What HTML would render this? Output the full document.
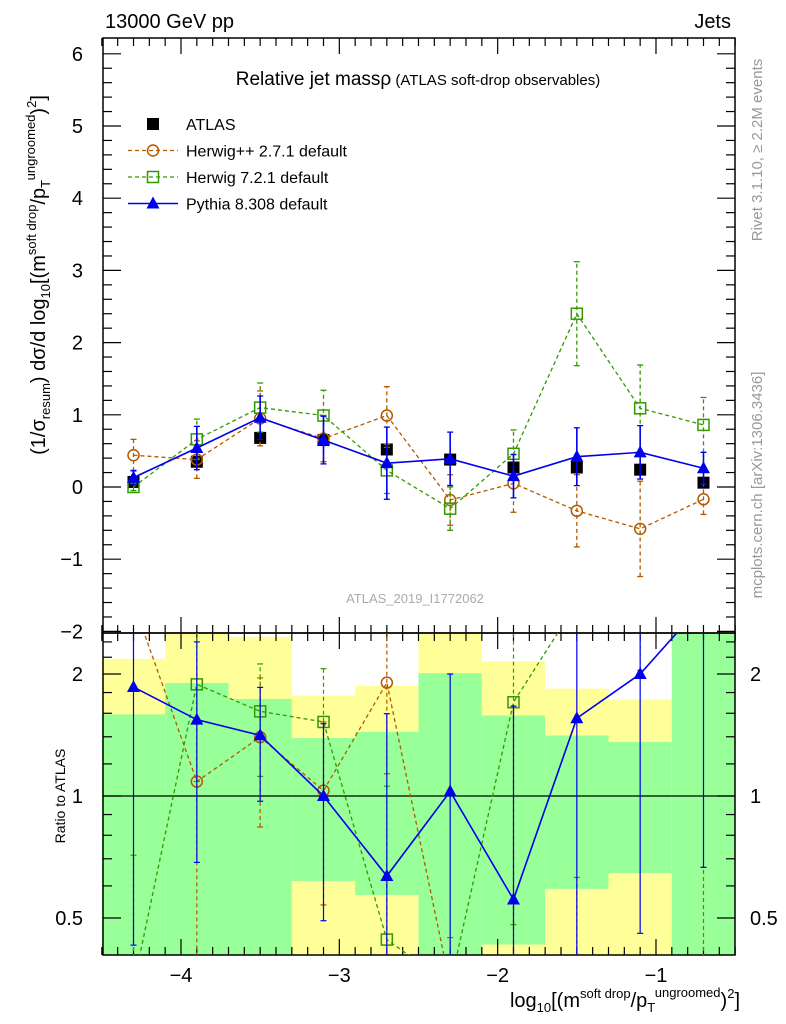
<!DOCTYPE html>
<html><head><meta charset="utf-8"><style>
html,body{margin:0;padding:0;background:#fff;width:786px;height:1024px;overflow:hidden}
svg{display:block;position:absolute;left:0;top:0;font-family:"Liberation Sans",sans-serif}
</style></head><body>
<svg id="c" width="786" height="1024" xmlns="http://www.w3.org/2000/svg">
<g id="bands"></g>
<g id="grid"></g>
<g id="series"></g>
<text x="105" y="28" font-size="20">13000 GeV pp</text>
<text x="731" y="28" font-size="20" text-anchor="end">Jets</text>
<text x="418" y="85" text-anchor="middle"><tspan font-size="19">Relative jet massρ</tspan><tspan font-size="15"> (ATLAS soft-drop observables)</tspan></text>
<text x="415" y="603" font-size="13" fill="#aaa" text-anchor="middle">ATLAS_2019_I1772062</text>
<text transform="translate(762,150) rotate(-90)" font-size="15" fill="#999" text-anchor="middle">Rivet 3.1.10, ≥ 2.2M events</text>
<text transform="translate(762,485) rotate(-90)" font-size="15" fill="#999" text-anchor="middle">mcplots.cern.ch [arXiv:1306.3436]</text>
<text transform="translate(45,275) rotate(-90)" font-size="20" text-anchor="middle">(1/σ<tspan font-size="13" dy="5">resum</tspan><tspan dy="-5">) dσ/d log</tspan><tspan font-size="13" dy="5">10</tspan><tspan dy="-5">[(m</tspan><tspan font-size="13" dy="-9">soft drop</tspan><tspan dy="9">/p</tspan><tspan font-size="13" dy="5">T</tspan><tspan font-size="13" dy="-15">ungroomed</tspan><tspan dy="10">)</tspan><tspan font-size="13" dy="-9">2</tspan><tspan dy="9">]</tspan></text>
<text transform="translate(65,796) rotate(-90)" font-size="14" text-anchor="middle">Ratio to ATLAS</text>
<text x="740" y="1007" font-size="20" text-anchor="end">log<tspan font-size="13" dy="5">10</tspan><tspan dy="-5">[(m</tspan><tspan font-size="13" dy="-9">soft drop</tspan><tspan dy="9">/p</tspan><tspan font-size="13" dy="5">T</tspan><tspan font-size="13" dy="-15">ungroomed</tspan><tspan dy="10">)</tspan><tspan font-size="13" dy="-9">2</tspan><tspan dy="9">]</tspan></text>
<g id="legend"></g>
</svg>
<script>
const xCenters=[-4.3,-3.9,-3.5,-3.1,-2.7,-2.3,-1.9,-1.5,-1.1,-0.7];
const atlasY=[0.07,0.35,0.68,0.65,0.52,0.38,0.27,0.27,0.24,0.06];
const atlasErr=[0.05,0.05,0.05,0.05,0.05,0.05,0.05,0.05,0.05,0.05];
const hppY=[0.44,0.38,0.95,0.67,0.99,-0.18,0.05,-0.33,-0.58,-0.17];
const hppErr=[0.22,0.26,0.38,0.32,0.4,0.35,0.4,0.5,0.66,0.21];
const h7Y=[0.0,0.66,1.1,0.99,0.23,-0.3,0.46,2.4,1.09,0.86];
const h7Err=[0.05,0.28,0.34,0.35,0.32,0.3,0.33,0.72,0.6,0.38];
const pyY=[0.13,0.54,0.96,0.65,0.33,0.39,0.15,0.42,0.48,0.26];
const pyErr=[0.1,0.3,0.3,0.33,0.5,0.37,0.3,0.4,0.37,0.22];
const binEdges=[-4.5,-4.1,-3.7,-3.3,-2.9,-2.5,-2.1,-1.7,-1.3,-0.9,-0.5];
const bandGreenHi=[1.59,1.90,1.735,1.39,1.44,2.01,1.58,1.41,1.36,3];
const bandGreenLo=[0.3,0.3,0.3,0.617,0.57,0.3,0.43,0.59,0.645,0.3];
const bandYellowHi=[2.18,3,2.47,1.77,1.87,3,2.15,1.84,1.73,3.5];
const bandYellowLo=[0.41,0.2,0.2,0.2,0.2,0.2,0.2,0.2,0.2,0.2];
const mainTicks=[-2,-1,0,1,2,3,4,5,6];
const ratioTicks=[0.5,1,2];
const xTicks=[-4,-3,-2,-1];

const NS="http://www.w3.org/2000/svg";
const L=103,R=735,T=38,MB=633,RB=955;
const X=v=>181+(v+4)*158.33;
const Y=v=>487-v*72.2;
const RY=r=>796-Math.log2(r)*122;
function mk(p,tag,a){const e=document.createElementNS(NS,tag);for(const k in a)e.setAttribute(k,a[k]);p.appendChild(e);return e;}
const bands=document.getElementById('bands'),grid=document.getElementById('grid'),ser=document.getElementById('series'),leg=document.getElementById('legend');
const clamp=(y)=>Math.max(MB,Math.min(RB,y));
const soft=(y)=>Math.max(MB-30,Math.min(RB+30,y));
for(let i=0;i<binEdges.length-1;i++){
  const x0=X(binEdges[i]),x1=X(binEdges[i+1]);
  let y0=clamp(RY(bandYellowHi[i])),y1=clamp(RY(bandYellowLo[i]));
  const yb=mk(bands,'rect',{x:x0,y:y0,width:x1-x0,height:y1-y0,fill:'#ffff99'});
  
  
  y0=clamp(RY(bandGreenHi[i]));y1=clamp(RY(bandGreenLo[i]));
  const gb=mk(bands,'rect',{x:x0,y:y0,width:x1-x0,height:y1-y0,fill:'#99ff99'});
  
  
}
mk(grid,'rect',{x:L,y:T,width:R-L,height:MB-T,fill:'none',stroke:'#000','stroke-width':1.5});
mk(grid,'rect',{x:L,y:MB,width:R-L,height:RB-MB,fill:'none',stroke:'#000','stroke-width':1.5});
mk(grid,'line',{x1:L,x2:R,y1:RY(1),y2:RY(1),stroke:'#000','stroke-width':1.2});
for(let k=-45;k<=-5;k++){const v=k/10,x=X(v),maj=Math.abs(v-Math.round(v))<1e-6,len=maj?16:8;
  [[T,1],[MB,-1],[MB,1],[RB,-1]].forEach(([y,d])=>mk(grid,'line',{x1:x,x2:x,y1:y,y2:y+d*len,stroke:'#000','stroke-width':1.2}));}
xTicks.forEach(v=>{const t=mk(grid,'text',{x:X(v),y:982,'font-size':20,'text-anchor':'middle'});t.textContent='\u2212'+Math.abs(v);
  
  });
for(let k=-10;k<=30;k++){const v=k/5,y=Y(v);if(y<T-1)continue;const maj=k%5==0,len=maj?18:9;
  mk(grid,'line',{x1:L,x2:L+len,y1:y,y2:y,stroke:'#000','stroke-width':1.2});
  mk(grid,'line',{x1:R,x2:R-len,y1:y,y2:y,stroke:'#000','stroke-width':1.2});}
mainTicks.forEach(v=>{const t=mk(grid,'text',{x:83,y:Y(v)+7,'font-size':20,'text-anchor':'end'});t.textContent=v<0?'\u2212'+(-v):''+v;
  
  });
for(let k=4;k<=25;k++){const v=k/10;if(v>1&&k%2)continue;const y=RY(v);if(y<MB||y>RB)continue;const maj=(v==0.5||v==1||v==2),len=maj?18:9;
  mk(grid,'line',{x1:L,x2:L+len,y1:y,y2:y,stroke:'#000','stroke-width':1.2});
  mk(grid,'line',{x1:R,x2:R-len,y1:y,y2:y,stroke:'#000','stroke-width':1.2});}
ratioTicks.forEach(v=>{[[83,'end'],[750,'start']].forEach(([x,a])=>{const t=mk(grid,'text',{x:x,y:RY(v)+7,'font-size':20,'text-anchor':a});t.textContent=''+v;
  
  });});

const defs=[
 {name:'herwigpp',ys:hppY,es:hppErr,col:'#b35900',dash:'4,3',m:'circle',line:true,w:1.3,label:'Herwig++ 2.7.1 default'},
 {name:'herwig7',ys:h7Y,es:h7Err,col:'#339900',dash:'4,3',m:'square',line:true,w:1.3,label:'Herwig 7.2.1 default'},
 {name:'pythia',ys:pyY,es:pyErr,col:'#0000ee',dash:'',m:'tri',line:true,w:1.6,label:'Pythia 8.308 default'},
 {name:'atlas',ys:atlasY,es:atlasErr,col:'#000',dash:'',m:'fsq',line:false,w:1.3,label:'ATLAS'}];
function marker(g,m,x,y,c){
  if(m=='circle')return mk(g,'circle',{cx:x,cy:y,r:5.5,fill:'none',stroke:c,'stroke-width':1.5});
  if(m=='square')return mk(g,'rect',{x:x-5.5,y:y-5.5,width:11,height:11,fill:'none',stroke:c,'stroke-width':1.5});
  if(m=='fsq')return mk(g,'rect',{x:x-6,y:y-6,width:12,height:12,fill:c});
  return mk(g,'polygon',{points:`${x},${y-7} ${x-6.5},${y+5} ${x+6.5},${y+5}`,fill:c});
}
const clip=mk(document.getElementById('c'),'clipPath',{id:'rc'});mk(clip,'rect',{x:L,y:MB,width:R-L,height:RB-MB});
const clipM=mk(document.getElementById('c'),'clipPath',{id:'mc'});mk(clipM,'rect',{x:L,y:T,width:R-L,height:MB-T});
[defs[3],defs[0],defs[1],defs[2]].forEach(s=>{
  const gm=mk(ser,'g',{'clip-path':'url(#mc)'});
  
  
  const pts=xCenters.map((x,i)=>[X(x),Y(s.ys[i])]);
  if(s.line)mk(gm,'polyline',{points:pts.map(p=>p.join(',')).join(' '),fill:'none',stroke:s.col,'stroke-width':s.w,'stroke-dasharray':s.dash});
  xCenters.forEach((x,i)=>{const px=X(x),y0=Y(s.ys[i]-s.es[i]),y1=Y(s.ys[i]+s.es[i]);
    if(s.name!='atlas'){mk(gm,'line',{x1:px,x2:px,y1:y0,y2:y1,stroke:s.col,'stroke-width':s.w,'stroke-dasharray':s.dash});
    [y0,y1].forEach(y=>mk(gm,'line',{x1:px-3,x2:px+3,y1:y,y2:y,stroke:s.col,'stroke-width':1.3}));}
    const mm=marker(gm,s.m,px,Y(s.ys[i]),s.col);
    
    });
  if(s.name=='atlas')return;
  const gr=mk(ser,'g',{'clip-path':'url(#rc)'});
  
  
  const rp=[];
  xCenters.forEach((x,i)=>{const r=s.ys[i]/atlasY[i];const px=X(x);
    const ry=r>0?soft(RY(r)):RB+30;rp.push([px,ry]);
    const lo=(s.ys[i]-s.es[i])/atlasY[i],hi=(s.ys[i]+s.es[i])/atlasY[i];
    const ylo=lo>0?soft(RY(lo)):RB+10,yhi=hi>0?soft(RY(hi)):RB+10;
    mk(gr,'line',{x1:px,x2:px,y1:ylo,y2:yhi,stroke:s.col,'stroke-width':1.2,'stroke-dasharray':s.dash});
    [ylo,yhi].forEach(y=>mk(gr,'line',{x1:px-3,x2:px+3,y1:y,y2:y,stroke:s.col,'stroke-width':1.2}));
    if(r>0&&RY(r)>MB-10&&RY(r)<RB+10){const mm=marker(gr,s.m,px,ry,s.col);
      
      }});
  mk(gr,'polyline',{points:rp.map(p=>p.join(',')).join(' '),fill:'none',stroke:s.col,'stroke-width':s.w,'stroke-dasharray':s.dash});
});
[defs[3],defs[0],defs[1],defs[2]].forEach((s,i)=>{const y=124+i*26.5;
  const g=mk(leg,'g',{});
  
  
  if(s.line)mk(g,'line',{x1:128,x2:178,y1:y,y2:y,stroke:s.col,'stroke-width':s.w,'stroke-dasharray':s.dash});
  marker(g,s.m,153,y,s.col);
  const t=mk(g,'text',{x:186,y:y+6,'font-size':16});t.textContent=s.label;});
</script>
</body></html>
